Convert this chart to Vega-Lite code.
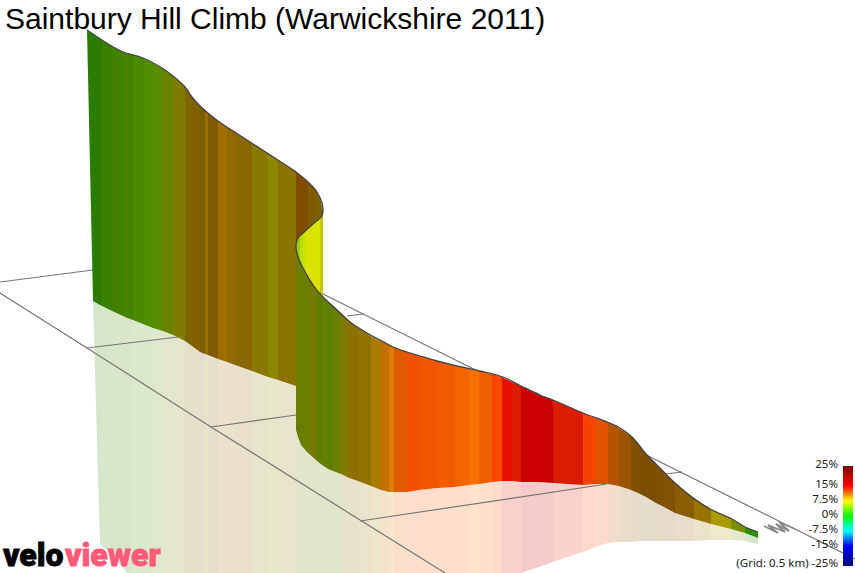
{
  "$schema": "https://vega.github.io/schema/vega-lite/v6.json",
  "width": 855,
  "height": 573,
  "autosize": {"type": "none"},
  "padding": 0,
  "background": "white",
  "view": {"stroke": null},
  "datasets": {
    "strips": [
      {"s":"a01","x":87,"top":30,"bot":30},{"s":"a01","x":93,"top":34,"bot":301,"low":301},{"s":"a01","x":100,"top":39,"bot":305,"low":543},{"s":"a01","x":102,"top":40,"bot":306,"low":546},
      {"s":"a02","x":102,"top":40,"bot":306,"low":546},{"s":"a02","x":112,"top":46,"bot":311,"low":555},
      {"s":"a03","x":112,"top":46,"bot":311,"low":555},{"s":"a03","x":123,"top":52,"bot":316,"low":568},
      {"s":"a04","x":123,"top":52,"bot":316,"low":568},{"s":"a04","x":127,"top":53,"bot":318,"low":573},{"s":"a04","x":133,"top":55,"bot":320,"low":573},
      {"s":"a05","x":133,"top":55,"bot":320,"low":573},{"s":"a05","x":143,"top":58,"bot":324,"low":573},
      {"s":"a06","x":143,"top":58,"bot":324,"low":573},{"s":"a06","x":153,"top":63,"bot":328,"low":573},
      {"s":"a07","x":153,"top":63,"bot":328,"low":573},{"s":"a07","x":163,"top":69,"bot":331,"low":573},
      {"s":"a08","x":163,"top":69,"bot":331,"low":573},{"s":"a08","x":173,"top":76,"bot":335,"low":573},
      {"s":"a09","x":173,"top":76,"bot":335,"low":573},{"s":"a09","x":185,"top":87,"bot":341,"low":573},
      {"s":"a10","x":185,"top":87,"bot":341,"low":573},{"s":"a10","x":192,"top":97,"bot":346,"low":573},
      {"s":"a11","x":192,"top":97,"bot":346,"low":573},{"s":"a11","x":200,"top":106,"bot":352,"low":573},
      {"s":"a12","x":200,"top":106,"bot":352,"low":573},{"s":"a12","x":205,"top":110,"bot":354,"low":573},
      {"s":"a13","x":205,"top":110,"bot":354,"low":573},{"s":"a13","x":208,"top":113,"bot":355,"low":573},
      {"s":"a14","x":208,"top":113,"bot":355,"low":573},{"s":"a14","x":218,"top":121,"bot":359,"low":573},
      {"s":"a15","x":218,"top":121,"bot":359,"low":573},{"s":"a15","x":227,"top":127,"bot":362,"low":573},
      {"s":"a16","x":227,"top":127,"bot":362,"low":573},{"s":"a16","x":235,"top":132,"bot":365,"low":573},
      {"s":"a17","x":235,"top":132,"bot":365,"low":573},{"s":"a17","x":252,"top":143,"bot":371,"low":573},
      {"s":"a18","x":252,"top":143,"bot":371,"low":573},{"s":"a18","x":268,"top":153,"bot":377,"low":573},
      {"s":"a19","x":268,"top":153,"bot":377,"low":573},{"s":"a19","x":278,"top":160,"bot":380,"low":573},
      {"s":"a20","x":278,"top":160,"bot":380,"low":573},{"s":"a20","x":296,"top":172,"bot":386,"low":573},
      {"s":"f1","x":296,"top":172,"bot":246},{"s":"f1","x":302,"top":177,"bot":234},{"s":"f1","x":308,"top":182,"bot":229},
      {"s":"f2","x":308,"top":182,"bot":229},{"s":"f2","x":315,"top":189,"bot":224},
      {"s":"f3","x":315,"top":189,"bot":224},{"s":"f3","x":320,"top":198,"bot":219},{"s":"f3","x":323,"top":211,"bot":214},
      {"s":"y1","x":296,"top":245,"bot":248},{"s":"y1","x":298,"top":238,"bot":257},{"s":"y1","x":300,"top":236,"bot":262},
      {"s":"y2","x":300,"top":236,"bot":262},{"s":"y2","x":303,"top":233,"bot":268},
      {"s":"y3","x":303,"top":233,"bot":268},{"s":"y3","x":306,"top":230,"bot":273},
      {"s":"y4","x":306,"top":230,"bot":273},{"s":"y4","x":313,"top":224,"bot":285},{"s":"y4","x":320,"top":218,"bot":294},
      {"s":"y5","x":320,"top":218,"bot":294},{"s":"y5","x":323,"top":214,"bot":297},
      {"s":"b01","x":296,"top":247,"bot":430,"low":573},{"s":"b01","x":298,"top":257,"bot":437,"low":573},{"s":"b01","x":301,"top":264,"bot":445,"low":573},{"s":"b01","x":307,"top":275,"bot":452,"low":573},
      {"s":"b02","x":307,"top":275,"bot":452,"low":573},{"s":"b02","x":317,"top":290,"bot":461,"low":573},
      {"s":"b03","x":317,"top":290,"bot":461,"low":573},{"s":"b03","x":322,"top":296,"bot":465,"low":573},
      {"s":"b04","x":322,"top":296,"bot":465,"low":573},{"s":"b04","x":328,"top":302,"bot":469,"low":573},
      {"s":"b05","x":328,"top":302,"bot":469,"low":573},{"s":"b05","x":333,"top":306,"bot":471,"low":573},
      {"s":"b06","x":333,"top":306,"bot":471,"low":573},{"s":"b06","x":341,"top":313,"bot":474,"low":573},
      {"s":"b07","x":341,"top":313,"bot":474,"low":573},{"s":"b07","x":349,"top":321,"bot":478,"low":573},
      {"s":"b08","x":349,"top":321,"bot":478,"low":573},{"s":"b08","x":358,"top":328,"bot":481,"low":573},
      {"s":"b09","x":358,"top":328,"bot":481,"low":573},{"s":"b09","x":371,"top":336,"bot":486,"low":573},
      {"s":"b10","x":371,"top":336,"bot":486,"low":573},{"s":"b10","x":381,"top":341,"bot":490,"low":573},
      {"s":"b11","x":381,"top":341,"bot":490,"low":573},{"s":"b11","x":389,"top":345,"bot":492,"low":573},
      {"s":"b12","x":389,"top":345,"bot":492,"low":573},{"s":"b12","x":394,"top":347,"bot":492,"low":573},
      {"s":"b13","x":394,"top":347,"bot":492,"low":573},{"s":"b13","x":407,"top":352,"bot":492,"low":573},
      {"s":"b14","x":407,"top":352,"bot":492,"low":573},{"s":"b14","x":419,"top":356,"bot":490,"low":573},
      {"s":"b15","x":419,"top":356,"bot":490,"low":573},{"s":"b15","x":437,"top":361,"bot":488,"low":573},
      {"s":"b16","x":437,"top":361,"bot":488,"low":573},{"s":"b16","x":455,"top":366,"bot":487,"low":573},
      {"s":"b17","x":455,"top":366,"bot":487,"low":573},{"s":"b17","x":469,"top":369,"bot":485,"low":573},
      {"s":"b18","x":469,"top":369,"bot":485,"low":573},{"s":"b18","x":479,"top":371,"bot":484,"low":573},
      {"s":"b19","x":479,"top":371,"bot":484,"low":573},{"s":"b19","x":492,"top":374,"bot":482,"low":573},
      {"s":"b20","x":492,"top":374,"bot":482,"low":573},{"s":"b20","x":502,"top":377,"bot":481,"low":573},
      {"s":"b21","x":502,"top":377,"bot":481,"low":573},{"s":"b21","x":512,"top":382,"bot":481,"low":573},
      {"s":"b22","x":512,"top":382,"bot":481,"low":573},{"s":"b22","x":521,"top":386,"bot":482,"low":573},
      {"s":"b23","x":521,"top":386,"bot":482,"low":573},{"s":"b23","x":539,"top":395,"bot":482,"low":567},
      {"s":"b24","x":539,"top":395,"bot":482,"low":567},{"s":"b24","x":553,"top":400,"bot":483,"low":562},
      {"s":"b25","x":553,"top":400,"bot":483,"low":562},{"s":"b25","x":583,"top":413,"bot":485,"low":552},
      {"s":"b26","x":583,"top":413,"bot":485,"low":552},{"s":"b26","x":595,"top":418,"bot":484,"low":547},
      {"s":"b27","x":595,"top":418,"bot":484,"low":547},{"s":"b27","x":608,"top":422,"bot":484,"low":543},
      {"s":"b28","x":608,"top":422,"bot":484,"low":543},{"s":"b28","x":619,"top":428,"bot":486,"low":542},
      {"s":"b29","x":619,"top":428,"bot":486,"low":542},{"s":"b29","x":631,"top":436,"bot":490,"low":542},
      {"s":"b30","x":631,"top":436,"bot":490,"low":542},{"s":"b30","x":640,"top":446,"bot":494,"low":541},
      {"s":"b31","x":640,"top":446,"bot":494,"low":541},{"s":"b31","x":646,"top":454,"bot":497,"low":541},
      {"s":"b32","x":646,"top":454,"bot":497,"low":541},{"s":"b32","x":656,"top":464,"bot":503,"low":541},
      {"s":"b33","x":656,"top":464,"bot":503,"low":541},{"s":"b33","x":662,"top":470,"bot":506,"low":541},
      {"s":"b34","x":662,"top":470,"bot":506,"low":541},{"s":"b34","x":675,"top":483,"bot":513,"low":541},
      {"s":"b35","x":675,"top":483,"bot":513,"low":541},{"s":"b35","x":694,"top":498,"bot":519,"low":541},
      {"s":"b36","x":694,"top":498,"bot":519,"low":541},{"s":"b36","x":711,"top":509,"bot":524,"low":540},
      {"s":"b37","x":711,"top":509,"bot":524,"low":540},{"s":"b37","x":731,"top":519,"bot":529,"low":540},
      {"s":"b38","x":731,"top":519,"bot":529,"low":540},{"s":"b38","x":745,"top":527,"bot":533,"low":541},
      {"s":"b39","x":745,"top":527,"bot":533,"low":541},{"s":"b39","x":758,"top":532,"bot":538,"low":544}
    ],
    "grid": [
      {"g":"long","i":0,"x":0,"y":293},{"g":"long","i":1,"x":87,"y":348},{"g":"long","i":2,"x":211,"y":427},{"g":"long","i":3,"x":445,"y":573},
      {"g":"far","i":0,"x":323,"y":294},{"g":"far","i":1,"x":855,"y":559},
      {"g":"c0","i":0,"x":0,"y":282},{"g":"c0","i":1,"x":93,"y":270},
      {"g":"c1","i":0,"x":87,"y":348},{"g":"c1","i":1,"x":178,"y":337},
      {"g":"c2","i":0,"x":211,"y":427},{"g":"c2","i":1,"x":296,"y":415},
      {"g":"c3","i":0,"x":360,"y":521},{"g":"c3","i":1,"x":607,"y":484},
      {"g":"c4","i":0,"x":347,"y":316},{"g":"c4","i":1,"x":363,"y":314},
      {"g":"c5","i":0,"x":665,"y":474},{"g":"c5","i":1,"x":682,"y":472}
    ],
    "arrow": [
      {"i":0,"x":764,"y":526},{"i":1,"x":778,"y":533},{"i":2,"x":768,"y":525},{"i":3,"x":785,"y":532},{"i":4,"x":776,"y":524},{"i":5,"x":789,"y":531},{"i":6,"x":779,"y":522},{"i":7,"x":795,"y":529}
    ],
    "edge": [
      {"i":0,"x":87,"y":30},{"i":1,"x":113,"y":47},{"i":2,"x":123,"y":52},{"i":3,"x":143,"y":58},{"i":4,"x":162,"y":68},{"i":5,"x":173,"y":76},{"i":6,"x":185,"y":87},{"i":7,"x":192,"y":97},{"i":8,"x":200,"y":106},{"i":9,"x":218,"y":121},{"i":10,"x":233,"y":131},{"i":11,"x":267,"y":153},{"i":12,"x":296,"y":172},{"i":13,"x":308,"y":182},{"i":14,"x":317,"y":192},{"i":15,"x":322,"y":203},{"i":16,"x":323,"y":211},{"i":17,"x":322,"y":216},{"i":18,"x":313,"y":224},{"i":19,"x":303,"y":233},{"i":20,"x":298,"y":238},{"i":21,"x":296,"y":246},{"i":22,"x":298,"y":257},{"i":23,"x":303,"y":268},{"i":24,"x":313,"y":285},{"i":25,"x":323,"y":297},{"i":26,"x":337,"y":310},{"i":27,"x":350,"y":322},{"i":28,"x":367,"y":333},{"i":29,"x":380,"y":340},{"i":30,"x":393,"y":347},{"i":31,"x":407,"y":352},{"i":32,"x":420,"y":356},{"i":33,"x":437,"y":361},{"i":34,"x":457,"y":366},{"i":35,"x":480,"y":371},{"i":36,"x":503,"y":377},{"i":37,"x":523,"y":387},{"i":38,"x":540,"y":395},{"i":39,"x":553,"y":400},{"i":40,"x":583,"y":413},{"i":41,"x":607,"y":422},{"i":42,"x":620,"y":428},{"i":43,"x":632,"y":437},{"i":44,"x":647,"y":455},{"i":45,"x":660,"y":468},{"i":46,"x":675,"y":483},{"i":47,"x":693,"y":498},{"i":48,"x":710,"y":509},{"i":49,"x":732,"y":519},{"i":50,"x":745,"y":527},{"i":51,"x":758,"y":532}
    ],
    "scaleLabels": [
      {"x":838,"y":465,"t":"25%"},{"x":838,"y":485,"t":"15%"},{"x":838,"y":500,"t":"7.5%"},{"x":838,"y":515,"t":"0%"},{"x":838,"y":530,"t":"-7.5%"},{"x":838,"y":545,"t":"-15%"},{"x":838,"y":564,"t":"(Grid: 0.5 km) -25%"}
    ]
  },
  "data": {"name": "strips"},
  "encoding": {
    "x": {"field": "x", "type": "quantitative", "scale": {"domain": [0, 855], "nice": false, "zero": false}, "axis": null},
    "y": {"field": "y", "type": "quantitative", "scale": {"domain": [573, 0], "nice": false, "zero": false}, "axis": null}
  },
  "layer": [
    {
      "transform": [{"filter": "isValid(datum.low)"}],
      "mark": {"type": "area", "opacity": 0.2},
      "encoding": {
        "y": {"field": "bot", "type": "quantitative"},
        "y2": {"field": "low"},
        "color": {"field": "s", "type": "nominal", "legend": null, "scale": {
          "domain": ["a01","a02","a03","a04","a05","a06","a07","a08","a09","a10","a11","a12","a13","a14","a15","a16","a17","a18","a19","a20","f1","f2","f3","y1","y2","y3","y4","y5","b01","b02","b03","b04","b05","b06","b07","b08","b09","b10","b11","b12","b13","b14","b15","b16","b17","b18","b19","b20","b21","b22","b23","b24","b25","b26","b27","b28","b29","b30","b31","b32","b33","b34","b35","b36","b37","b38","b39"],
          "range": ["#2b7d02","#3a8002","#408000","#468200","#4c8a00","#4e8c00","#5a8a00","#6a8200","#7d7c00","#7f6400","#7e6000","#7d5c00","#9a6c00","#7e5a00","#a06c00","#936800","#8a6600","#887a00","#8c8800","#8c7200","#824c00","#7e5a00","#7a6000","#9ccc00","#b8e000","#cce000","#d9e300","#c4c800","#6a7d00","#707a00","#5e7d00","#628000","#5f7f00","#6a7e00","#827a00","#8c7000","#907400","#ac7c00","#c47000","#d87e00","#e05c00","#f05000","#f45600","#f45a00","#f46400","#f87000","#f06000","#f84800","#e81000","#dc1c00","#cc0000","#c80000","#dc1c00","#f44400","#e05000","#b45400","#9a5400","#7e5200","#7a5000","#7a5000","#7e5200","#805204","#8a5c04","#9a7400","#aa9c00","#7a9000","#2f8c04"]
        }}
      }
    },
    {
      "data": {"name": "grid"},
      "mark": {"type": "line", "color": "#777777", "strokeWidth": 1.2},
      "encoding": {"detail": {"field": "g"}, "order": {"field": "i", "type": "quantitative"}}
    },
    {
      "data": {"name": "arrow"},
      "mark": {"type": "line", "color": "#8a8a8a", "strokeWidth": 1.8},
      "encoding": {"order": {"field": "i", "type": "quantitative"}}
    },
    {
      "mark": {"type": "area"},
      "encoding": {
        "y": {"field": "top", "type": "quantitative"},
        "y2": {"field": "bot"},
        "color": {"field": "s", "type": "nominal", "legend": null}
      }
    },
    {
      "data": {"name": "edge"},
      "mark": {"type": "line", "color": "#444444", "strokeWidth": 1.3, "interpolate": "catmull-rom"},
      "encoding": {"order": {"field": "i", "type": "quantitative"}}
    },
    {
      "data": {"values": [{"x": 843, "x2": 853, "y": 466, "y2": 566}]},
      "mark": {"type": "rect", "fill": {"gradient": "linear", "x1": 0, "y1": 0, "x2": 0, "y2": 1, "stops": [
        {"offset": 0, "color": "#7f0000"},
        {"offset": 0.2, "color": "#ff0000"},
        {"offset": 0.35, "color": "#ffff00"},
        {"offset": 0.5, "color": "#00ff00"},
        {"offset": 0.65, "color": "#00ffff"},
        {"offset": 0.8, "color": "#0000ff"},
        {"offset": 1, "color": "#00007f"}
      ]}},
      "encoding": {"x2": {"field": "x2"}, "y2": {"field": "y2"}}
    },
    {
      "data": {"name": "scaleLabels"},
      "mark": {"type": "text", "align": "right", "baseline": "middle", "font": "Noto Sans", "fontSize": 11.5, "color": "#222222"},
      "encoding": {"text": {"field": "t"}}
    },
    {
      "data": {"values": [{"x": 5, "y": 29, "t": "Saintbury Hill Climb (Warwickshire 2011)"}]},
      "mark": {"type": "text", "align": "left", "baseline": "alphabetic", "font": "Liberation Sans", "fontSize": 30, "color": "#000000"},
      "encoding": {"text": {"field": "t"}}
    },
    {
      "data": {"values": [{"x": 3, "y": 566, "t": "velo"}]},
      "mark": {"type": "text", "align": "left", "baseline": "alphabetic", "font": "Roboto", "fontWeight": 900, "fontSize": 32, "color": "#000000", "stroke": "#000000", "strokeWidth": 0.8},
      "encoding": {"text": {"field": "t"}}
    },
    {
      "data": {"values": [{"x": 65, "y": 566, "t": "viewer"}]},
      "mark": {"type": "text", "align": "left", "baseline": "alphabetic", "font": "Roboto", "fontWeight": 900, "fontSize": 32, "color": "#ff5a78", "stroke": "#ff5a78", "strokeWidth": 0.8},
      "encoding": {"text": {"field": "t"}}
    }
  ]
}
